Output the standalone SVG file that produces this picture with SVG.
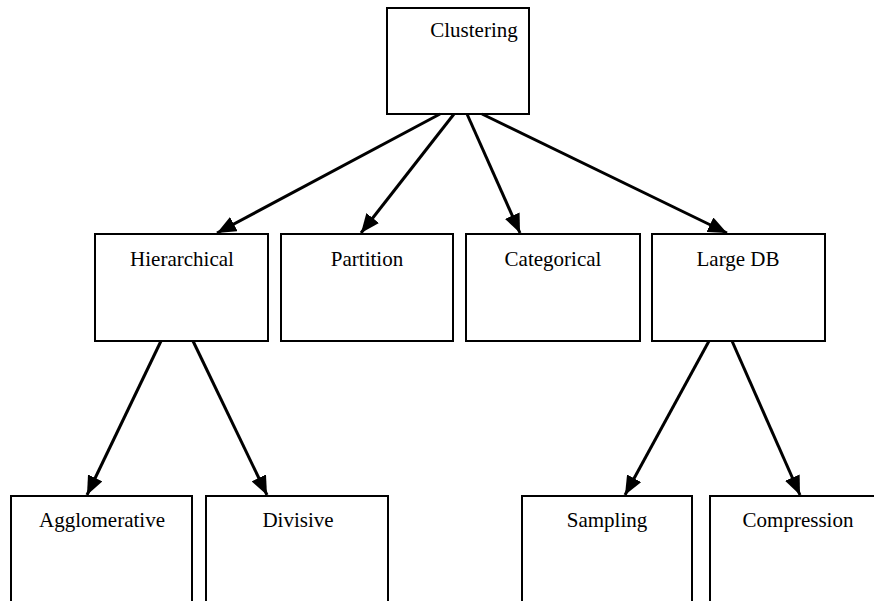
<svg xmlns="http://www.w3.org/2000/svg" width="874" height="601" viewBox="0 0 874 601">
<style>
.box{fill:#fff;stroke:#000;stroke-width:2}
text{font-family:'Liberation Serif','Times New Roman',Tinos,'DejaVu Serif',serif;font-size:21px;fill:#000;text-anchor:middle}
.edge{stroke:#000;stroke-width:3;fill:none;marker-end:url(#ah)}
</style>
<defs>
<marker id="ah" markerUnits="userSpaceOnUse" markerWidth="20" markerHeight="16" refX="19" refY="8" orient="auto">
<path d="M0,0 L19,8 L0,16 z" fill="#000"/>
</marker>
</defs>
<rect width="874" height="601" fill="#fff"/>
<g id="clustering"><rect class="box" x="387" y="8" width="142" height="106"/><text x="474" y="37" font-family="Liberation Serif, serif">Clustering</text></g>
<g id="hierarchical"><rect class="box" x="95" y="234" width="173" height="107"/><text x="182" y="266" font-family="Liberation Serif, serif">Hierarchical</text></g>
<g id="partition"><rect class="box" x="281" y="234" width="172" height="107"/><text x="367" y="266" font-family="Liberation Serif, serif">Partition</text></g>
<g id="categorical"><rect class="box" x="466" y="234" width="174" height="107"/><text x="553" y="266" font-family="Liberation Serif, serif">Categorical</text></g>
<g id="largedb"><rect class="box" x="652" y="234" width="173" height="107"/><text x="738" y="266" font-family="Liberation Serif, serif">Large DB</text></g>
<g id="agglomerative"><rect class="box" x="11" y="496" width="181" height="120"/><text x="102" y="527" font-family="Liberation Serif, serif">Agglomerative</text></g>
<g id="divisive"><rect class="box" x="206" y="496" width="182" height="120"/><text x="298" y="527" font-family="Liberation Serif, serif">Divisive</text></g>
<g id="sampling"><rect class="box" x="522" y="496" width="170" height="120"/><text x="607" y="527" font-family="Liberation Serif, serif">Sampling</text></g>
<g id="compression"><rect class="box" x="710" y="496" width="176" height="120"/><text x="798" y="527" font-family="Liberation Serif, serif">Compression</text></g>
<g id="connectors">
<line class="edge" x1="440" y1="114" x2="217" y2="233"/>
<line class="edge" x1="454" y1="114" x2="361" y2="233"/>
<line class="edge" x1="467" y1="114" x2="520" y2="233"/>
<line class="edge" x1="482" y1="114" x2="727" y2="233"/>
<line class="edge" x1="161" y1="341" x2="87" y2="495"/>
<line class="edge" x1="193" y1="341" x2="267" y2="495"/>
<line class="edge" x1="709" y1="341" x2="625" y2="495"/>
<line class="edge" x1="732" y1="341" x2="800" y2="495"/>
</g>
</svg>
